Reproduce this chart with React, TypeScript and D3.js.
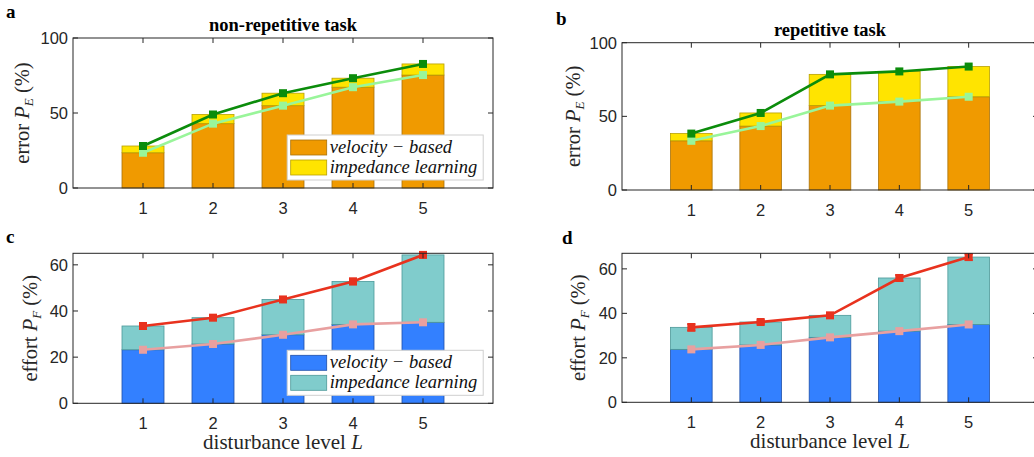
import React from "react";
import * as d3 from "d3";

const levels = [1, 2, 3, 4, 5];
const errNonRepVelocity = [23.5, 42.9, 54.9, 67.2, 75.3];
const errNonRepImpedance = [28.0, 49.0, 63.2, 73.2, 82.7];
const errRepVelocity = [33.4, 43.4, 57.3, 60.0, 63.3];
const errRepImpedance = [38.3, 52.3, 78.5, 80.5, 83.8];
const effNonRepVelocity = [23.2, 25.7, 29.7, 34.2, 35.1];
const effNonRepImpedance = [33.5, 37.1, 45.0, 52.8, 64.3];
const effRepVelocity = [23.8, 25.8, 29.2, 32.0, 35.0];
const effRepImpedance = [33.7, 36.1, 39.1, 55.9, 65.3];
const effNonRepErr = [1.2, 1.0, 1.0, 1.2, 0.8];
const effRepErr = [1.5, 0.8, 1.0, 1.3, 1.3];
const errTicks = [0, 50, 100];
const effTicks = [0, 20, 40, 60];
const legendLabels = ["velocity \u2212 based", "impedance learning"];

const errColors = {
  base: "#F09A00", baseEdge: "#A8720A", top: "#FFE400", topEdge: "#B8A100",
  lineTop: "#0B8C0B", lineBase: "#99F59A",
};
const effColors = {
  base: "#3380FF", baseEdge: "#1F4FA8", top: "#80CCCC", topEdge: "#4D9999",
  lineTop: "#E8321E", lineBase: "#E8A0A0",
};

type PanelProps = {
  x0: number; x1: number; yTop: number; yBot: number; ymax: number; ticks: number[];
  base: number[]; top: number[]; err?: number[]; colors: typeof errColors;
  title?: string; titleY?: number; label: string; labelX: number; labelY: number;
  ylabMain: string; ylabSub: string; ylabX: number; legend?: boolean; xlabel?: boolean;
};

const AX = "#262626";

function Panel(p: PanelProps) {
  const x = d3.scaleLinear().domain([0, 6]).range([p.x0, p.x1]);
  const y = d3.scaleLinear().domain([0, p.ymax]).range([p.yBot, p.yTop]);
  const bw = x(0.6) - x(0);
  const line = d3.line<number>().x((_, i) => x(levels[i])).y((d) => y(d));
  const cy = (p.yTop + p.yBot) / 2;
  const ms = 8;
  const tl = 5;
  return (
    <g>
      <text x={p.labelX} y={p.labelY} fontFamily="Liberation Serif" fontWeight="bold" fontSize={19}>{p.label}</text>
      {p.title && (
        <text x={(p.x0 + p.x1) / 2} y={p.titleY} textAnchor="middle"
          fontFamily="Liberation Serif" fontWeight="bold" fontSize={18.5}>{p.title}</text>
      )}
      {levels.map((l, i) => (
        <g key={i}>
          <rect x={x(l) - bw / 2} y={y(p.base[i])} width={bw} height={y(0) - y(p.base[i])}
            fill={p.colors.base} stroke={p.colors.baseEdge} strokeWidth={0.8} />
          <rect x={x(l) - bw / 2} y={y(p.top[i])} width={bw} height={y(p.base[i]) - y(p.top[i])}
            fill={p.colors.top} stroke={p.colors.topEdge} strokeWidth={0.8} />
        </g>
      ))}
      {p.legend && (
        <g>
          <rect x={x(3.06)} y={p.yBot - 53} width={x(5.86) - x(3.06)} height={45} fill="#fff" stroke="#cfcfcf" strokeWidth={1} />
          <rect x={x(3.11)} y={p.yBot - 48} width={36} height={15} fill={p.colors.base} stroke={p.colors.baseEdge} strokeWidth={0.8} />
          <rect x={x(3.11)} y={p.yBot - 28} width={36} height={15} fill={p.colors.top} stroke={p.colors.topEdge} strokeWidth={0.8} />
          <text x={x(3.11) + 39} y={p.yBot - 35} fontFamily="Liberation Serif" fontStyle="italic" fontSize={18.5} fill="#111">{legendLabels[0]}</text>
          <text x={x(3.11) + 39} y={p.yBot - 15} fontFamily="Liberation Serif" fontStyle="italic" fontSize={18.5} fill="#111">{legendLabels[1]}</text>
        </g>
      )}
      <path d={line(p.base) || ""} fill="none" stroke={p.colors.lineBase} strokeWidth={2.6} />
      {levels.map((l, i) => (
        <rect key={i} x={x(l) - ms / 2} y={y(p.base[i]) - ms / 2} width={ms} height={ms} fill={p.colors.lineBase} />
      ))}
      <path d={line(p.top) || ""} fill="none" stroke={p.colors.lineTop} strokeWidth={2.6} />
      {levels.map((l, i) => (
        <g key={i}>
          {p.err && (
            <g stroke={p.colors.lineTop} strokeWidth={2}>
              <line x1={x(l)} x2={x(l)} y1={y(p.top[i] - p.err[i])} y2={y(p.top[i] + p.err[i])} />
              <line x1={x(l) - 4} x2={x(l) + 4} y1={y(p.top[i] - p.err[i])} y2={y(p.top[i] - p.err[i])} />
              <line x1={x(l) - 4} x2={x(l) + 4} y1={y(p.top[i] + p.err[i])} y2={y(p.top[i] + p.err[i])} />
            </g>
          )}
          <rect x={x(l) - ms / 2} y={y(p.top[i]) - ms / 2} width={ms} height={ms} fill={p.colors.lineTop} />
        </g>
      ))}
      <rect x={p.x0} y={p.yTop} width={p.x1 - p.x0} height={p.yBot - p.yTop} fill="none" stroke={AX} strokeWidth={1} />
      {levels.map((l) => (
        <g key={l} stroke={AX} strokeWidth={1}>
          <line x1={x(l)} x2={x(l)} y1={p.yBot} y2={p.yBot - tl} />
          <line x1={x(l)} x2={x(l)} y1={p.yTop} y2={p.yTop + tl} />
        </g>
      ))}
      {p.ticks.map((t) => (
        <g key={t}>
          <line x1={p.x0} x2={p.x0 + tl} y1={y(t)} y2={y(t)} stroke={AX} />
          <line x1={p.x1} x2={p.x1 - tl} y1={y(t)} y2={y(t)} stroke={AX} />
          <text x={p.x0 - 5} y={y(t)} dy="0.36em" textAnchor="end" fontFamily="Liberation Sans" fontSize={16.5} fill={AX}>{t}</text>
        </g>
      ))}
      {levels.map((l) => (
        <text key={l} x={x(l)} y={p.yBot + 20} dy="0.36em" textAnchor="middle" fontFamily="Liberation Sans" fontSize={16.5} fill={AX}>{l}</text>
      ))}
      {p.xlabel && (
        <text x={(x(0) + x(6)) / 2} y={p.yBot + 46} textAnchor="middle" fontFamily="Liberation Serif" fontSize={21} fill={AX}>
          disturbance level <tspan fontStyle="italic">L</tspan>
        </text>
      )}
      <text transform={`translate(${p.ylabX},${cy}) rotate(-90)`} textAnchor="middle" fontFamily="Liberation Serif" fontSize={20.5} fill={AX}>
        {p.ylabMain} <tspan fontStyle="italic">P</tspan><tspan fontStyle="italic" fontSize={13} dy={4}>{p.ylabSub}</tspan><tspan dy={-4}> (%)</tspan>
      </text>
    </g>
  );
}

export default function App() {
  return (
    <svg width={1034} height={457} style={{ position: "absolute", left: 0, top: 0, background: "#fff" }}>
      <rect width={1034} height={457} fill="#fff" />
      <Panel x0={73} x1={493} yTop={38} yBot={188} ymax={100} ticks={errTicks}
        base={errNonRepVelocity} top={errNonRepImpedance} colors={errColors}
        title="non-repetitive task" titleY={31} label="a" labelX={6} labelY={18}
        ylabMain="error" ylabSub="E" ylabX={29} legend />
      <Panel x0={622} x1={1038} yTop={42.7} yBot={190} ymax={100} ticks={errTicks}
        base={errRepVelocity} top={errRepImpedance} colors={errColors}
        title="repetitive task" titleY={36} label="b" labelX={556} labelY={25}
        ylabMain="error" ylabSub="E" ylabX={580} />
      <Panel x0={73} x1={493} yTop={253.3} yBot={403.3} ymax={65} ticks={effTicks}
        base={effNonRepVelocity} top={effNonRepImpedance} err={effNonRepErr} colors={effColors}
        label="c" labelX={6} labelY={243}
        ylabMain="effort" ylabSub="F" ylabX={37} legend xlabel />
      <Panel x0={622} x1={1038} yTop={253.3} yBot={402.3} ymax={67} ticks={effTicks}
        base={effRepVelocity} top={effRepImpedance} err={effRepErr} colors={effColors}
        label="d" labelX={562} labelY={244}
        ylabMain="effort" ylabSub="F" ylabX={585} xlabel />
    </svg>
  );
}
